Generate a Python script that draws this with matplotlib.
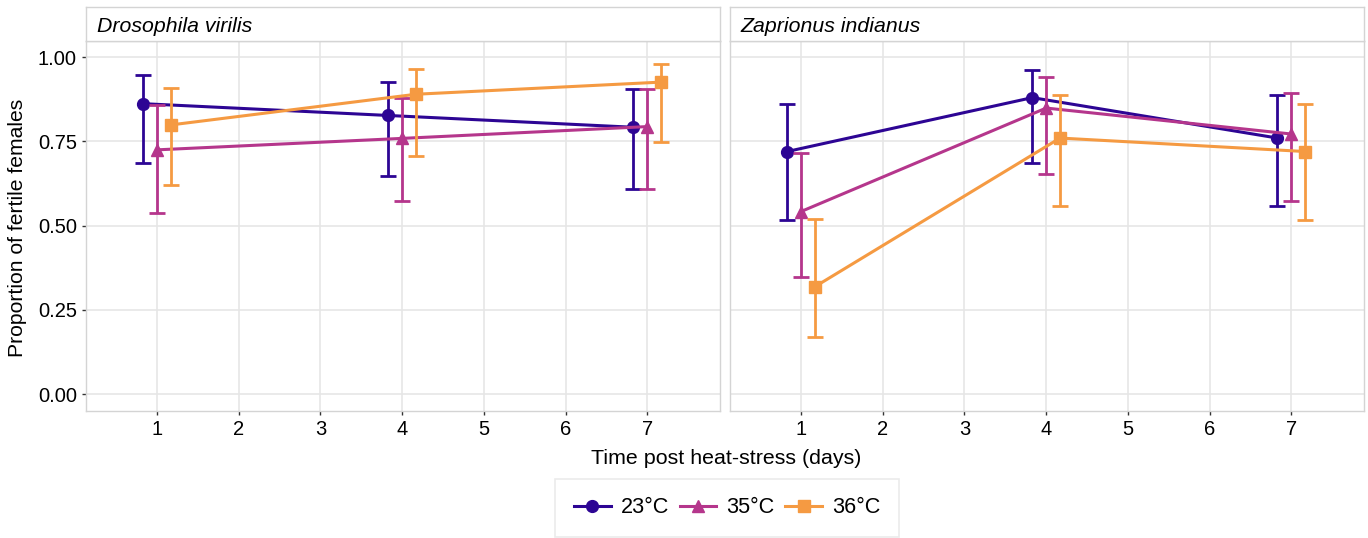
import matplotlib.pyplot as plt
from matplotlib.lines import Line2D

plt.rcParams['font.family'] = ['Liberation Sans', 'DejaVu Sans']

DAYS = [1, 4, 7]
TEMPS = ["23°C", "35°C", "36°C"]
COLORS = ["#2d0594", "#b5368c", "#f59a42"]
MARKERS = ["o", "^", "s"]
SPECIES = ["Drosophila virilis", "Zaprionus indianus"]

# proportion of fertile females, with lower / upper CI, per temperature
virilis_mean = [[0.862, 0.827, 0.792], [0.725, 0.759, 0.794], [0.799, 0.890, 0.926]]
virilis_low = [[0.685, 0.647, 0.609], [0.537, 0.573, 0.609], [0.620, 0.707, 0.747]]
virilis_high = [[0.948, 0.926, 0.905], [0.859, 0.880, 0.905], [0.908, 0.964, 0.981]]

indianus_mean = [[0.720, 0.880, 0.760], [0.542, 0.849, 0.772], [0.319, 0.760, 0.720]]
indianus_low = [[0.517, 0.687, 0.559], [0.349, 0.653, 0.573], [0.169, 0.559, 0.517]]
indianus_high = [[0.862, 0.961, 0.888], [0.715, 0.942, 0.893], [0.520, 0.888, 0.862]]

DODGE = [-0.17, 0.0, 0.17]

W, H = 1368, 538
fig = plt.figure(figsize=(W / 100, H / 100), dpi=100)

panels = [(86, virilis_mean, virilis_low, virilis_high),
          (730, indianus_mean, indianus_low, indianus_high)]
grid_col = "#e6e6e6"
border_col = "#d4d4d4"

for i, (x0, means, lows, highs) in enumerate(panels):
    ax = fig.add_axes([x0 / W, (H - 411) / H, 634 / W, 370 / H])
    for j in range(3):
        xs = [d + DODGE[j] for d in DAYS]
        m = means[j]
        yerr = [[m[k] - lows[j][k] for k in range(3)], [highs[j][k] - m[k] for k in range(3)]]
        ax.errorbar(xs, m, yerr=yerr, color=COLORS[j], marker=MARKERS[j], markersize=8.5,
                    linewidth=2.2, elinewidth=2.0, capsize=6, capthick=2.0, zorder=3 + j)
    ax.set_xlim(0.13, 7.89)
    ax.set_ylim(-0.05, 1.048)
    ax.set_xticks(range(1, 8))
    ax.set_yticks([0, 0.25, 0.5, 0.75, 1.0])
    ax.grid(True, color=grid_col, linewidth=1.2, zorder=0)
    ax.set_axisbelow(True)
    for s in ax.spines.values():
        s.set_color(border_col)
        s.set_linewidth(1.0)
    ax.tick_params(labelsize=14.5, colors="#333333", labelcolor="black", length=3, width=1)
    if i == 0:
        ax.set_yticklabels(["0.00", "0.25", "0.50", "0.75", "1.00"])
    else:
        ax.set_yticklabels([])
        ax.tick_params(axis='y', length=0)

    # facet strip
    sax = fig.add_axes([x0 / W, (H - 41) / H, 634 / W, 34 / H])
    sax.set_xticks([])
    sax.set_yticks([])
    for s in sax.spines.values():
        s.set_color(border_col)
        s.set_linewidth(1.0)
    sax.text(0.017, 0.44, SPECIES[i], style="italic", fontsize=15.3, va="center", ha="left",
             transform=sax.transAxes)

fig.text(18 / W, 1 - 228 / H, "Proportion of fertile females", rotation=90, fontsize=15.2,
         ha="center", va="center")
fig.text(726 / W, 1 - 458 / H, "Time post heat-stress (days)", fontsize=15.4,
         ha="center", va="center")

handles = [Line2D([], [], color=COLORS[j], marker=MARKERS[j], markersize=8.5, linewidth=2.2)
           for j in range(3)]
leg = fig.legend(handles, TEMPS, loc="upper center", bbox_to_anchor=(727 / W, 1 - 479 / H),
                 ncol=3, fontsize=15.6, frameon=True, fancybox=False, borderpad=0.85,
                 borderaxespad=0, handlelength=1.7, handletextpad=0.45, columnspacing=0.5)
leg.get_frame().set_edgecolor(grid_col)
leg.get_frame().set_linewidth(1.2)

fig.savefig("out.png", dpi=100)
